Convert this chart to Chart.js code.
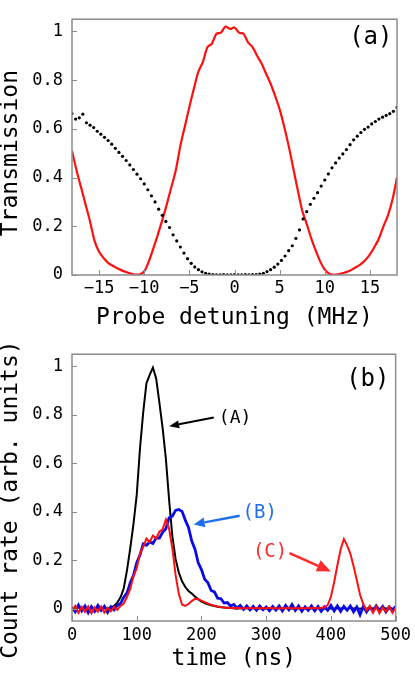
<!DOCTYPE html>
<html>
<head>
<meta charset="utf-8">
<script src="https://cdn.jsdelivr.net/npm/chart.js@4.4.0/dist/chart.umd.min.js"></script>
<style>
    html, body { margin: 0; padding: 0; background: #fff; }
    canvas { position: absolute; left: 0; }
    #painelA { top: 0; }
    #painelB { top: 335px; }
</style>
</head>
<body>
<canvas id="painelA" width="415" height="335" style="width:415px;height:335px"></canvas>
<canvas id="painelB" width="415" height="339" style="width:415px;height:339px"></canvas>
<script>
// Painel (a): transmissão em função da dessintonia
const detuningRed = [
    -18, -17.5, -17, -16.5, -16, -15.5, -15, -14.5, -14, -13.5,
    -13, -12.5, -12, -11.5, -11, -10.5, -10, -9.5, -9, -8.5,
    -8, -7.5, -7, -6.5, -6, -5.5, -5, -4.5, -4, -3.5,
    -3, -2.5, -2, -1.5, -1, -0.5, 0, 0.5, 1, 1.5,
    2, 2.5, 3, 3.5, 4, 4.5, 5, 5.5, 6, 6.5,
    7, 7.5, 8, 8.5, 9, 9.5, 10, 10.5, 11, 11.5,
    12, 12.5, 13, 13.5, 14, 14.5, 15, 15.5, 16, 16.5,
    17, 17.5, 18
];
const transRed = [
    0.51, 0.43, 0.36, 0.29, 0.22, 0.14, 0.095, 0.07, 0.05, 0.038,
    0.028, 0.019, 0.012, 0.006, 0.002, 0.002, 0.015, 0.055, 0.108, 0.165,
    0.225, 0.29, 0.36, 0.43, 0.53, 0.61, 0.69, 0.765, 0.835, 0.875,
    0.935, 0.95, 0.99, 0.995, 1.02, 1.01, 1.016, 0.995, 0.99, 0.955,
    0.935, 0.9, 0.868, 0.826, 0.785, 0.735, 0.68, 0.61, 0.53, 0.44,
    0.35, 0.265, 0.21, 0.15, 0.1, 0.055, 0.022, 0.005, 0.001, 0.003,
    0.008, 0.013, 0.022, 0.033, 0.045, 0.062, 0.085, 0.115, 0.15, 0.2,
    0.245, 0.31, 0.4
];
const detuningDots = [
    -18.0, -17.6, -17.2, -16.8, -16.4, -16.0, -15.6, -15.2, -14.8, -14.4,
    -14.0, -13.6, -13.2, -12.8, -12.4, -12.0, -11.6, -11.2, -10.8, -10.4,
    -10.0, -9.6, -9.2, -8.8, -8.4, -8.0, -7.6, -7.2, -6.8, -6.4,
    -6.0, -5.6, -5.2, -4.8, -4.4, -4.0, -3.6, -3.2, -2.8, -2.4,
    -2.0, -1.6, -1.2, -0.8, -0.4, 0.0, 0.4, 0.8, 1.2, 1.6,
    2.0, 2.4, 2.8, 3.2, 3.6, 4.0, 4.4, 4.8, 5.2, 5.6,
    6.0, 6.4, 6.8, 7.2, 7.6, 8.0, 8.4, 8.8, 9.2, 9.6,
    10.0, 10.4, 10.8, 11.2, 11.6, 12.0, 12.4, 12.8, 13.2, 13.6,
    14.0, 14.4, 14.8, 15.2, 15.6, 16.0, 16.4, 16.8, 17.2, 17.6,
    18.0
];
const transDots = [
    0.663, 0.64, 0.645, 0.66, 0.625, 0.615, 0.605, 0.59, 0.578, 0.565,
    0.552, 0.537, 0.52, 0.503, 0.487, 0.47, 0.452, 0.433, 0.414, 0.395,
    0.374, 0.35, 0.325, 0.3, 0.27, 0.245, 0.22, 0.195, 0.165, 0.14,
    0.115, 0.09, 0.067, 0.048, 0.033, 0.022, 0.013, 0.007, 0.004, 0.002,
    0.001, 0.001, 0.002, 0.001, 0.001, 0.002, 0.001, 0.001, 0.002, 0.001,
    0.002, 0.002, 0.004, 0.007, 0.014, 0.022, 0.032, 0.045, 0.06, 0.078,
    0.1, 0.12, 0.15, 0.185, 0.23, 0.26, 0.29, 0.315, 0.338, 0.365,
    0.39, 0.415, 0.44, 0.46, 0.48, 0.497, 0.515, 0.535, 0.555, 0.57,
    0.585, 0.598, 0.607, 0.62, 0.63, 0.64, 0.648, 0.655, 0.662, 0.672,
    0.688
];
const xTicksA = [-15, -10, -5, 0, 5, 10, 15];
const xTickLabelsA = ['\u221215', '\u221210', '\u22125', '0', '5', '10', '15'];
const yTicksA = [0, 0.2, 0.4, 0.6, 0.8, 1];
const yTickLabelsA = ['0', '0.2', '0.4', '0.6', '0.8', '1'];

// Painel (b): taxa de contagem em função do tempo
const timeNs = [
    0, 5, 10, 15, 20, 25, 30, 35, 40, 45,
    50, 55, 60, 65, 70, 75, 80, 85, 90, 95,
    100, 105, 110, 115, 120, 125, 130, 135, 140, 145,
    150, 155, 160, 165, 170, 175, 180, 185, 190, 195,
    200, 205, 210, 215, 220, 225, 230, 235, 240, 245,
    250, 255, 260, 265, 270, 275, 280, 285, 290, 295,
    300, 305, 310, 315, 320, 325, 330, 335, 340, 345,
    350, 355, 360, 365, 370, 375, 380, 385, 390, 395,
    400, 405, 410, 415, 420, 425, 430, 435, 440, 445,
    450, 455, 460, 465, 470, 475, 480, 485, 490, 495,
    500
];
const countA = [
    0.004, -0.004, 0.008, -0.002, 0.006, -0.006, 0.004, -0.003, 0.006, -0.004,
    0.005, 0.000, 0.006, 0.012, 0.026, 0.048, 0.085, 0.16, 0.25, 0.35,
    0.47, 0.66, 0.81, 0.93, 0.965, 0.995, 0.95, 0.85, 0.745, 0.62,
    0.45, 0.3, 0.206, 0.15, 0.114, 0.09, 0.074, 0.063, 0.051, 0.04,
    0.03, 0.024, 0.019, 0.015, 0.012, 0.009, 0.007, 0.006, 0.005, 0.004,
    0.003, 0.001, 0.004, 0.002, 0.003, 0.000, 0.004, 0.002, 0.003, 0.001,
    0.003, 0.001, 0.004, 0.002, 0.003, 0.000, 0.004, 0.002, 0.003, 0.001,
    0.003, 0.001, 0.004, 0.002, 0.003, 0.000, 0.004, 0.002, 0.003, 0.001,
    0.003, 0.001, 0.004, 0.002, 0.003, 0.000, 0.004, 0.002, 0.003, 0.001,
    0.003, 0.001, 0.004, 0.002, 0.003, 0.000, 0.004, 0.002, 0.003, 0.001,
    0.003
];
const countB = [
    0.006, -0.012, 0.016, -0.008, 0.012, -0.016, 0.009, -0.01, 0.014, -0.006,
    0.011, -0.014, 0.009, -0.004, 0.014, 0.022, 0.048, 0.066, 0.108, 0.138,
    0.19, 0.222, 0.268, 0.262, 0.276, 0.27, 0.292, 0.292, 0.316, 0.33,
    0.376, 0.382, 0.406, 0.41, 0.402, 0.366, 0.336, 0.28, 0.246, 0.19,
    0.162, 0.122, 0.108, 0.076, 0.07, 0.044, 0.042, 0.024, 0.026, 0.012,
    0.018, 0.004, 0.014, -0.002, 0.012, -0.004, 0.01, -0.006, 0.012, -0.004,
    0.008, -0.008, 0.01, -0.005, 0.012, -0.008, 0.014, -0.004, 0.018, -0.006,
    0.012, -0.01, 0.008, -0.006, 0.012, -0.008, 0.01, -0.01, 0.008, -0.006,
    0.014, -0.008, 0.012, -0.01, 0.01, -0.006, 0.012, -0.012, 0.008, -0.024,
    0.01, -0.012, 0.008, -0.01, 0.012, -0.008, 0.01, -0.012, 0.008, -0.006,
    0.01
];
const countC = [
    -0.01, 0.012, -0.016, 0.008, -0.012, 0.01, -0.018, 0.006, -0.012, 0.01,
    -0.015, 0.004, -0.01, 0.008, -0.004, 0.012, 0.022, 0.05, 0.082, 0.135,
    0.168, 0.228, 0.256, 0.29, 0.276, 0.302, 0.29, 0.318, 0.328, 0.368,
    0.33, 0.25, 0.14, 0.062, 0.018, 0.012, 0.02, 0.032, 0.042, 0.04,
    0.034, 0.028, 0.022, 0.017, 0.013, 0.01, 0.008, 0.006, 0.005, 0.004,
    0.003, 0.005, 0.002, 0.004, 0.003, 0.005, 0.002, 0.004, 0.003, 0.004,
    0.002, 0.005, 0.003, 0.004, 0.002, 0.004, 0.003, 0.005, 0.002, 0.004,
    0.003, 0.004, 0.002, 0.005, 0.003, 0.004, 0.003, 0.005, 0.006, 0.016,
    0.05, 0.11, 0.18, 0.245, 0.288, 0.262, 0.228, 0.176, 0.118, 0.058,
    0.02, -0.006, 0.012, -0.016, 0.01, -0.018, 0.006, -0.012, 0.01, -0.016,
    0.004
];
const xTicksB = [0, 100, 200, 300, 400, 500];
const xTickLabelsB = ['0', '100', '200', '300', '400', '500'];
const yTicksB = [0, 0.2, 0.4, 0.6, 0.8, 1];
const yTickLabelsB = ['0', '0.2', '0.4', '0.6', '0.8', '1'];

const fonte = "'DejaVu Sans Mono', monospace";
const fonteTitulo = "23px " + fonte;

function pontos(xs, ys) {
    return xs.map((x, i) => ({ x: x, y: ys[i] }));
}

function seta(ctx, x0, y0, x1, y1, cor, larguraLinha, cab, meia) {
    const ang = Math.atan2(y1 - y0, x1 - x0);
    const bx = x1 - cab * Math.cos(ang);
    const by = y1 - cab * Math.sin(ang);
    ctx.strokeStyle = cor;
    ctx.fillStyle = cor;
    ctx.lineWidth = larguraLinha;
    ctx.beginPath();
    ctx.moveTo(x0, y0);
    ctx.lineTo(bx, by);
    ctx.stroke();
    ctx.beginPath();
    ctx.moveTo(x1, y1);
    ctx.lineTo(bx + meia * Math.sin(ang), by - meia * Math.cos(ang));
    ctx.lineTo(bx - meia * Math.sin(ang), by + meia * Math.cos(ang));
    ctx.closePath();
    ctx.fill();
}

// Moldura, marcas internas, título do eixo y e anotações
const molduraPlugin = {
    id: 'moldura',
    afterDatasetsDraw(chart, args, opts) {
        const ctx = chart.ctx;
        const a = chart.chartArea;
        const sx = chart.scales.x;
        const sy = chart.scales.y;
        ctx.save();
        ctx.strokeStyle = '#8c8c8c';
        ctx.lineWidth = 1.5;
        ctx.strokeRect(a.left, a.top, a.right - a.left, a.bottom - a.top);
        ctx.lineWidth = 1;
        ctx.beginPath();
        sx.ticks.forEach(t => {
            const px = Math.round(sx.getPixelForValue(t.value)) + 0.5;
            ctx.moveTo(px, a.bottom);
            ctx.lineTo(px, a.bottom - 5);
        });
        sy.ticks.forEach(t => {
            const py = Math.round(sy.getPixelForValue(t.value)) + 0.5;
            ctx.moveTo(a.left, py);
            ctx.lineTo(a.left + 5, py);
        });
        ctx.stroke();

        // título do eixo y
        ctx.save();
        ctx.translate(11.5, (a.top + a.bottom) / 2 + opts.tituloY.desloc);
        ctx.rotate(-Math.PI / 2);
        ctx.font = fonteTitulo;
        ctx.fillStyle = '#000';
        ctx.textAlign = 'center';
        ctx.textBaseline = 'middle';
        ctx.fillText(opts.tituloY.texto, 0, 0);
        ctx.restore();

        ctx.textAlign = 'center';
        ctx.textBaseline = 'middle';
        (opts.textos || []).forEach(t => {
            ctx.font = t.tamanho + 'px ' + fonte;
            ctx.fillStyle = t.cor;
            ctx.fillText(t.texto, sx.getPixelForValue(t.x), sy.getPixelForValue(t.y));
        });
        (opts.setas || []).forEach(s => {
            seta(ctx,
                sx.getPixelForValue(s.de[0]), sy.getPixelForValue(s.de[1]),
                sx.getPixelForValue(s.para[0]), sy.getPixelForValue(s.para[1]),
                s.cor, s.largura, s.cab, s.meia);
        });
        ctx.restore();
    }
};

function eixoX(min, max, ticks, labels, altura, tituloTexto, padTitulo, padTicks) {
    return {
        type: 'linear',
        min: min,
        max: max,
        grid: { display: false, drawTicks: false },
        border: { display: false },
        afterBuildTicks: s => { s.ticks = ticks.map(v => ({ value: v })); },
        afterFit: s => { s.height = altura; },
        ticks: {
            autoSkip: false,
            maxRotation: 0,
            padding: padTicks,
            color: '#000',
            font: { family: fonte, size: 17 },
            callback: (v, i) => labels[i]
        },
        title: {
            display: true,
            text: tituloTexto,
            color: '#000',
            font: { family: fonte, size: 23, lineHeight: 1 },
            padding: { top: 0, bottom: padTitulo }
        }
    };
}

function eixoY(min, max, ticks, labels) {
    return {
        type: 'linear',
        min: min,
        max: max,
        grid: { display: false, drawTicks: false },
        border: { display: false },
        afterBuildTicks: s => { s.ticks = ticks.map(v => ({ value: v })); },
        afterFit: s => { s.width = 72; },
        ticks: {
            autoSkip: false,
            padding: 9,
            color: '#000',
            font: { family: fonte, size: 17 },
            callback: (v, i) => labels[i]
        }
    };
}

// Gráfico (a)
new Chart(document.getElementById('painelA'), {
    type: 'scatter',
    data: {
        datasets: [
            {
                data: pontos(detuningDots, transDots),
                showLine: false,
                pointRadius: 1.6,
                pointBackgroundColor: '#000',
                pointBorderWidth: 0,
                order: 0
            },
            {
                data: pontos(detuningRed, transRed),
                showLine: true,
                borderColor: '#ff1010',
                borderWidth: 2.2,
                pointRadius: 0,
                tension: 0.3,
                order: 1
            }
        ]
    },
    options: {
        responsive: false,
        animation: false,
        devicePixelRatio: 1,
        layout: { padding: { top: 1, right: 18, bottom: 0, left: 0 } },
        plugins: {
            legend: { display: false },
            tooltip: { enabled: false },
            moldura: {
                tituloY: { texto: 'Transmission', desloc: 6 },
                textos: [{ texto: '(a)', x: 15.1, y: 0.975, cor: '#000', tamanho: 24 }]
            }
        },
        scales: {
            x: eixoX(-18, 18, xTicksA, xTickLabelsA, 60, 'Probe detuning (MHz)', 5, 3),
            y: eixoY(0, 1.05, yTicksA, yTickLabelsA)
        }
    },
    plugins: [molduraPlugin]
});

// Gráfico (b)
new Chart(document.getElementById('painelB'), {
    type: 'scatter',
    data: {
        datasets: [
            {
                data: pontos(timeNs, countA),
                showLine: true,
                borderColor: '#000',
                borderWidth: 2,
                pointRadius: 0,
                order: 2
            },
            {
                data: pontos(timeNs, countB),
                showLine: true,
                borderColor: '#0a0ae6',
                borderWidth: 2.8,
                pointRadius: 0,
                order: 1
            },
            {
                data: pontos(timeNs, countC),
                showLine: true,
                borderColor: '#ff1010',
                borderWidth: 2,
                pointRadius: 0,
                order: 0
            }
        ]
    },
    options: {
        responsive: false,
        animation: false,
        devicePixelRatio: 1,
        layout: { padding: { top: 10, right: 16, bottom: 0, left: 0 } },
        plugins: {
            legend: { display: false },
            tooltip: { enabled: false },
            moldura: {
                tituloY: { texto: 'Count rate (arb. units)', desloc: 12 },
                textos: [
                    { texto: '(b)', x: 457, y: 0.943, cor: '#000', tamanho: 24 },
                    { texto: '(A)', x: 252, y: 0.785, cor: '#000', tamanho: 18 },
                    { texto: '(B)', x: 290, y: 0.394, cor: '#1f6ff0', tamanho: 19 },
                    { texto: '(C)', x: 306, y: 0.233, cor: '#ff2a2a', tamanho: 19 }
                ],
                setas: [
                    { de: [219, 0.789], para: [150, 0.753], cor: '#000', largura: 2, cab: 10, meia: 4 },
                    { de: [259, 0.384], para: [188, 0.348], cor: '#1f6ff0', largura: 2.4, cab: 11, meia: 5 },
                    { de: [336, 0.23], para: [400, 0.154], cor: '#ff2a2a', largura: 2.6, cab: 14, meia: 6 }
                ]
            }
        },
        scales: {
            x: eixoX(0, 500, xTicksB, xTickLabelsB, 53, 'time (ns)', 3, 4),
            y: eixoY(-0.05, 1.05, yTicksB, yTickLabelsB)
        }
    },
    plugins: [molduraPlugin]
});
</script>
</body>
</html>
